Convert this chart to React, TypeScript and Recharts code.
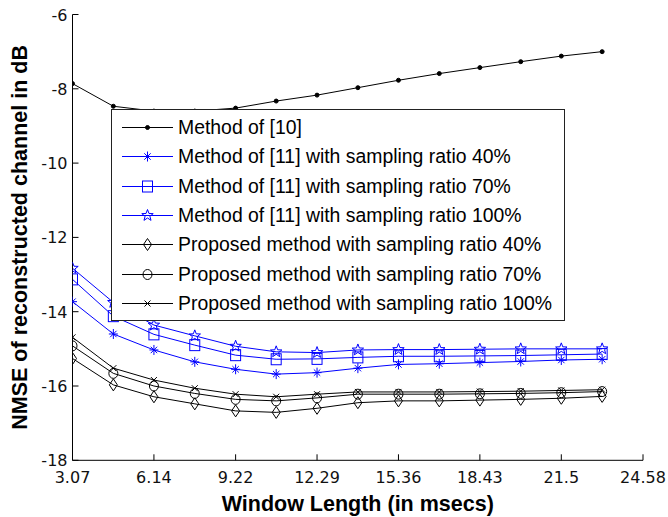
import React from 'react';
import { LineChart, Line, XAxis, YAxis, Legend } from 'recharts';

// ---- data ----
const windowLengths = [3.07, 4.61, 6.14, 7.68, 9.22, 10.75, 12.29, 13.83, 15.36, 16.9, 18.43, 19.97, 21.5, 23.04];
const xTicks = [3.07, 6.14, 9.22, 12.29, 15.36, 18.43, 21.5, 24.58];
const yTicks = [-18, -16, -14, -12, -10, -8, -6];

const method10 = [-7.86, -8.47, -8.6, -8.6, -8.52, -8.33, -8.17, -7.97, -7.77, -7.59, -7.43, -7.27, -7.12, -7.0];
const method11_40 = [-13.73, -14.6, -15.03, -15.35, -15.55, -15.68, -15.64, -15.52, -15.42, -15.4, -15.37, -15.34, -15.3, -15.28];
const method11_70 = [-13.13, -14.12, -14.61, -14.9, -15.17, -15.28, -15.27, -15.23, -15.2, -15.2, -15.19, -15.18, -15.16, -15.14];
const method11_100 = [-12.83, -13.75, -14.36, -14.65, -14.93, -15.08, -15.1, -15.03, -15.02, -15.02, -15.01, -15.0, -15.0, -15.0];
const proposed40 = [-15.26, -15.97, -16.29, -16.48, -16.67, -16.71, -16.6, -16.45, -16.4, -16.4, -16.38, -16.36, -16.33, -16.28];
const proposed70 = [-14.92, -15.66, -16.0, -16.2, -16.36, -16.4, -16.32, -16.22, -16.22, -16.22, -16.21, -16.2, -16.18, -16.15];
const proposed100 = [-14.69, -15.52, -15.84, -16.06, -16.22, -16.29, -16.22, -16.16, -16.16, -16.16, -16.15, -16.14, -16.12, -16.1];

const seriesNames = [
  'Method of [10]',
  'Method of [11] with sampling ratio 40%',
  'Method of [11] with sampling ratio 70%',
  'Method of [11] with sampling ratio 100%',
  'Proposed method with sampling ratio 40%',
  'Proposed method with sampling ratio 70%',
  'Proposed method with sampling ratio 100%',
];

const data = windowLengths.map((x, i) => ({
  x,
  s0: method10[i],
  s1: method11_40[i],
  s2: method11_70[i],
  s3: method11_100[i],
  s4: proposed40[i],
  s5: proposed70[i],
  s6: proposed100[i],
}));

// ---- markers ----
type MK = 'point' | 'asterisk' | 'square' | 'star' | 'diamond' | 'circle' | 'x';

function Marker({ kind, cx, cy, color }: { kind: MK; cx: number; cy: number; color: string }) {
  const sw = 1;
  switch (kind) {
    case 'point':
      return <circle cx={cx} cy={cy} r={2} fill={color} stroke={color} />;
    case 'asterisk': {
      const s = 4.5, d = 3.2;
      return (
        <g stroke={color} strokeWidth={sw}>
          <line x1={cx - s} y1={cy} x2={cx + s} y2={cy} />
          <line x1={cx} y1={cy - s - 0.5} x2={cx} y2={cy + s + 0.5} />
          <line x1={cx - d} y1={cy - d} x2={cx + d} y2={cy + d} />
          <line x1={cx - d} y1={cy + d} x2={cx + d} y2={cy - d} />
        </g>
      );
    }
    case 'square':
      return <rect x={cx - 5} y={cy - 5.5} width={10} height={11} fill="none" stroke={color} strokeWidth={sw} />;
    case 'star': {
      const pts: string[] = [];
      for (let k = 0; k < 10; k++) {
        const r = k % 2 === 0 ? 6 : 2.5;
        const a = -Math.PI / 2 + (k * Math.PI) / 5;
        pts.push(`${cx + r * Math.cos(a)},${cy + r * Math.sin(a)}`);
      }
      return <polygon points={pts.join(' ')} fill="none" stroke={color} strokeWidth={sw} />;
    }
    case 'diamond':
      return (
        <polygon
          points={`${cx},${cy - 6} ${cx + 4},${cy} ${cx},${cy + 6} ${cx - 4},${cy}`}
          fill="none"
          stroke={color}
          strokeWidth={sw}
        />
      );
    case 'circle':
      return <ellipse cx={cx} cy={cy} rx={4.5} ry={5} fill="none" stroke={color} strokeWidth={sw} />;
    case 'x': {
      const d = 3;
      return (
        <g stroke={color} strokeWidth={sw}>
          <line x1={cx - d} y1={cy - d} x2={cx + d} y2={cy + d} />
          <line x1={cx - d} y1={cy + d} x2={cx + d} y2={cy - d} />
        </g>
      );
    }
  }
  return null;
}

const BLUE = '#0000ff';
const BLACK = '#000000';
const seriesStyle: { key: string; color: string; marker: MK }[] = [
  { key: 's0', color: BLACK, marker: 'point' },
  { key: 's1', color: BLUE, marker: 'asterisk' },
  { key: 's2', color: BLUE, marker: 'square' },
  { key: 's3', color: BLUE, marker: 'star' },
  { key: 's4', color: BLACK, marker: 'diamond' },
  { key: 's5', color: BLACK, marker: 'circle' },
  { key: 's6', color: BLACK, marker: 'x' },
];

const makeDot = (marker: MK, color: string) => (props: any) => {
  const { cx, cy, index } = props;
  if (cx == null || cy == null) return <g key={index} />;
  return (
    <g key={`${marker}-${index}`}>
      <Marker kind={marker} cx={cx} cy={cy} color={color} />
    </g>
  );
};

// ---- ticks ----
const TICK_FONT = '"DejaVu Sans", sans-serif';

const BottomTick = (props: any) => {
  const { x, y, payload } = props;
  return (
    <g>
      <line x1={x} x2={x} y1={y} y2={y - 6} stroke="#000" />
      <text x={x} y={y + 23} textAnchor="middle" fontFamily={TICK_FONT} fontSize={16} fill="#111">
        {payload.value}
      </text>
    </g>
  );
};
const TopTick = (props: any) => {
  const { x, y } = props;
  return <line x1={x} x2={x} y1={y} y2={y + 6} stroke="#000" />;
};
const LeftTick = (props: any) => {
  const { x, y, payload } = props;
  return (
    <g>
      <line x1={x} x2={x + 6} y1={y} y2={y} stroke="#000" />
      <text x={x - 5} y={y + 6} textAnchor="end" fontFamily={TICK_FONT} fontSize={16} fill="#111">
        {payload.value}
      </text>
    </g>
  );
};
const RightTick = (props: any) => {
  const { x, y } = props;
  return <line x1={x} x2={x - 6} y1={y} y2={y} stroke="#000" />;
};

const TITLE_FONT = '"Liberation Sans", Arial, sans-serif';

const XTitle = (props: any) => {
  const vb = props.viewBox || {};
  return (
    <text
      x={vb.x + vb.width / 2}
      y={vb.y + 51}
      textAnchor="middle"
      fontFamily={TITLE_FONT}
      fontWeight="bold"
      fontSize={21.5}
      fill="#000"
    >
      Window Length (in msecs)
    </text>
  );
};
const YTitle = (props: any) => {
  const vb = props.viewBox || {};
  const cx = 27;
  const cy = vb.y + vb.height / 2;
  return (
    <text
      x={cx}
      y={cy}
      transform={`rotate(-90 ${cx} ${cy})`}
      textAnchor="middle"
      fontFamily={TITLE_FONT}
      fontWeight="bold"
      fontSize={21.5}
      fill="#000"
    >
      NMSE of reconstructed channel in dB
    </text>
  );
};

const LegendBox = () => (
  <div
    style={{
      width: 454,
      height: 212,
      boxSizing: 'border-box',
      border: '1px solid #222',
      background: '#fff',
      paddingTop: 3,
    }}
  >
    {seriesStyle.map((s, i) => (
      <div key={s.key} style={{ height: 29.3, display: 'flex', alignItems: 'center', position: 'relative' }}>
        <svg width={66} height={29} style={{ display: 'block', flex: 'none' }}>
          <line x1={10} x2={61} y1={14.5} y2={14.5} stroke={s.color} strokeWidth={1} />
          <Marker kind={s.marker} cx={35.5} cy={14.5} color={s.color} />
        </svg>
        <span
          style={{
            fontFamily: TITLE_FONT,
            fontSize: 19.4,
            color: '#000',
            whiteSpace: 'nowrap',
            lineHeight: '29px',
          }}
        >
          {seriesNames[i]}
        </span>
      </div>
    ))}
  </div>
);

export default function App() {
  return (
    <div style={{ position: 'absolute', left: 0, top: 0, width: 668, height: 517, background: '#fff' }}>
      <LineChart
        width={668}
        height={517}
        data={data}
        margin={{ top: 14.5, right: 25, bottom: 0, left: 0 }}
      >
        <XAxis
          dataKey="x"
          type="number"
          domain={[3.07, 24.58]}
          ticks={xTicks}
          allowDataOverflow
          height={56.7}
          tickSize={0}
          tickMargin={0}
          tickLine={false}
          axisLine={{ stroke: '#000' }}
          tick={<BottomTick />}
          interval={0}
          label={{ content: <XTitle /> } as any}
        />
        <XAxis
          xAxisId="top"
          orientation="top"
          dataKey="x"
          type="number"
          domain={[3.07, 24.58]}
          ticks={xTicks}
          allowDataOverflow
          height={0}
          tickSize={0}
          tickMargin={0}
          tickLine={false}
          axisLine={{ stroke: '#000' }}
          tick={<TopTick />}
          interval={0}
        />
        <YAxis
          type="number"
          domain={[-18, -6]}
          ticks={yTicks}
          allowDataOverflow
          width={72.5}
          tickSize={0}
          tickMargin={0}
          tickLine={false}
          axisLine={{ stroke: '#000' }}
          tick={<LeftTick />}
          interval={0}
          label={{ content: <YTitle /> } as any}
        />
        <YAxis
          yAxisId="right"
          orientation="right"
          type="number"
          domain={[-18, -6]}
          ticks={yTicks}
          allowDataOverflow
          width={0}
          tickSize={0}
          tickMargin={0}
          tickLine={false}
          axisLine={{ stroke: '#000' }}
          tick={<RightTick />}
          interval={0}
        />
        {seriesStyle.map((s, i) => (
          <Line
            key={s.key}
            dataKey={s.key}
            name={seriesNames[i]}
            stroke={s.color}
            strokeWidth={1}
            dot={makeDot(s.marker, s.color)}
            activeDot={false}
            isAnimationActive={false}
            type="linear"
          />
        ))}
        <Legend
          layout="vertical"
          align="center"
          verticalAlign="middle"
          wrapperStyle={{ left: 111, top: 109, width: 454, height: 212 }}
          content={<LegendBox />}
        />
      </LineChart>
    </div>
  );
}
